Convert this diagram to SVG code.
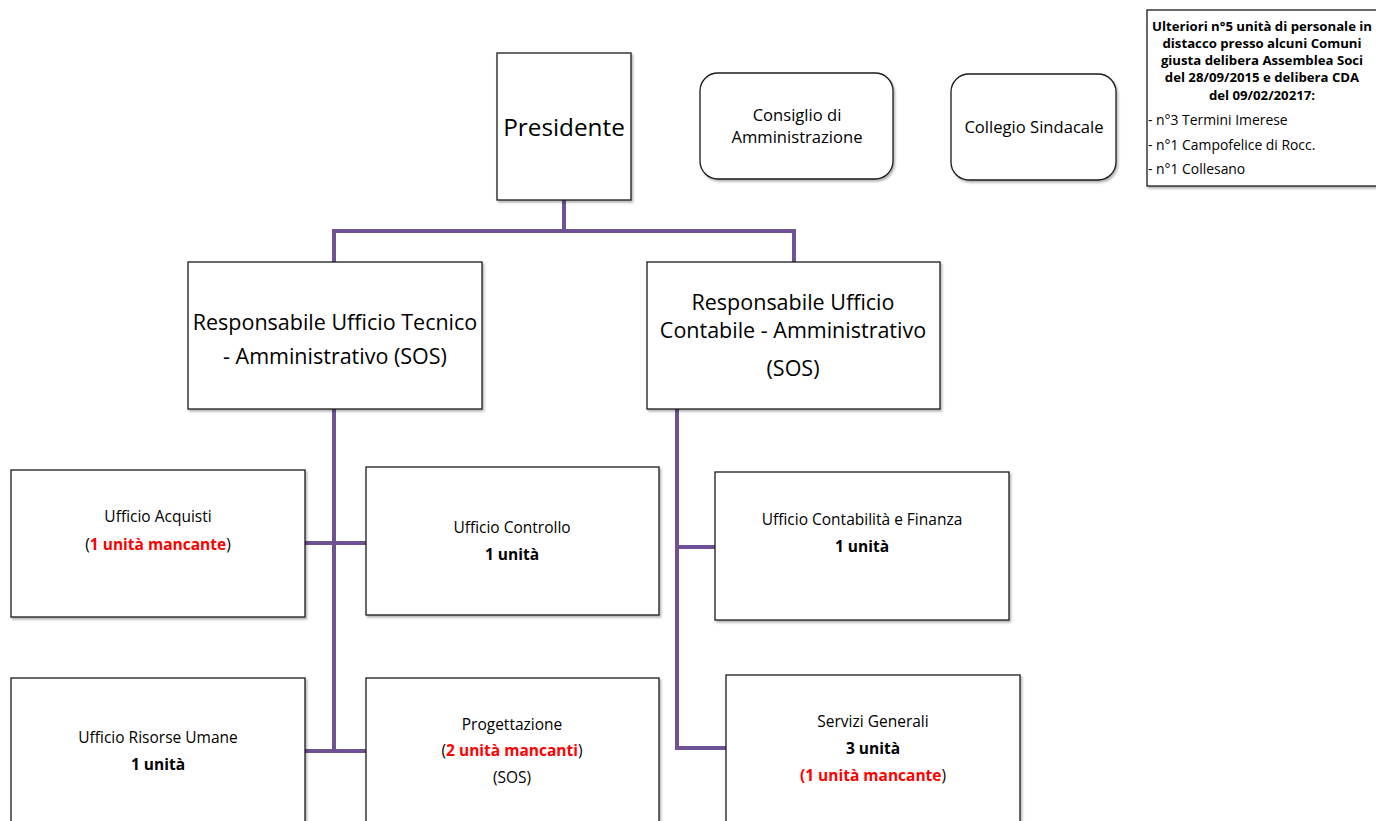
<svg xmlns="http://www.w3.org/2000/svg" width="1376" height="821" viewBox="0 0 1376 821">
<style>
text{font-family:"Open Sans","Noto Sans","Liberation Sans",sans-serif;fill:#000;text-anchor:middle}
.box{fill:#fff;stroke:#1a1a1a;stroke-width:1.3;filter:url(#sh)}
.s{font-size:15.5px}
.t{font-size:16.6px}
.m{font-size:21.5px}
.b{font-weight:bold}
.r{fill:#f00;font-weight:bold}
.c{fill:none;stroke:#6f5296;stroke-width:4}
.note{font-size:13.2px}
.li{font-size:13.9px;text-anchor:start}
</style>
<defs>
<filter id="sh" x="-5%" y="-5%" width="112%" height="115%">
<feDropShadow dx="1.5" dy="2" stdDeviation="1.2" flood-color="#000" flood-opacity="0.3"/>
</filter>
</defs>
<g id="connectors">
<path class="c" d="M564 200V231M334 231H794M334 229V262M794 229V262"/>
<path class="c" d="M334 409V753M305 543H366M305 751H366"/>
<path class="c" d="M677 409V750M675 547H715M675 748H726"/>
</g>
<g id="presidente">
<rect class="box" x="497" y="53" width="134" height="147"/>
<text x="564" y="136" style="font-size:24.3px">Presidente</text>
</g>
<g id="consiglio">
<rect class="box" x="700" y="73" width="193" height="106" rx="18"/>
<text class="t" x="797" y="121">Consiglio di</text>
<text class="t" x="797" y="143">Amministrazione</text>
</g>
<g id="collegio">
<rect class="box" x="951" y="74" width="165" height="106" rx="18"/>
<text class="t" x="1034" y="133">Collegio Sindacale</text>
</g>
<g id="nota">
<rect class="box" x="1147" y="10" width="240" height="176"/>
<text class="note b" x="1262" y="31">Ulteriori n°5 unità di personale in</text>
<text class="note b" x="1262" y="48">distacco presso alcuni Comuni</text>
<text class="note b" x="1262" y="65">giusta delibera Assemblea Soci</text>
<text class="note b" x="1262" y="82">del 28/09/2015 e delibera CDA</text>
<text class="note b" x="1262" y="100">del 09/02/20217:</text>
<text class="li" x="1148" y="125">- n°3 Termini Imerese</text>
<text class="li" x="1148" y="150">- n°1 Campofelice di Rocc.</text>
<text class="li" x="1148" y="174">- n°1 Collesano</text>
</g>
<g id="resp-tecnico">
<rect class="box" x="188" y="262" width="294" height="147"/>
<text class="m" x="335" y="330">Responsabile Ufficio Tecnico</text>
<text class="m" x="335" y="364">- Amministrativo (SOS)</text>
</g>
<g id="resp-contabile">
<rect class="box" x="647" y="262" width="293" height="147"/>
<text class="m" x="793" y="310">Responsabile Ufficio</text>
<text class="m" x="793" y="338">Contabile - Amministrativo</text>
<text class="m" x="793" y="376">(SOS)</text>
</g>
<g id="acquisti">
<rect class="box" x="11" y="470" width="294" height="147"/>
<text class="s" x="158" y="522">Ufficio Acquisti</text>
<text class="s" x="158" y="550">(<tspan class="r">1 unità mancante</tspan>)</text>
</g>
<g id="controllo">
<rect class="box" x="366" y="467" width="293" height="148"/>
<text class="s" x="512" y="533">Ufficio Controllo</text>
<text class="s b" x="512" y="560">1 unità</text>
</g>
<g id="contabilita">
<rect class="box" x="715" y="472" width="294" height="148"/>
<text class="s" x="862" y="525">Ufficio Contabilità e Finanza</text>
<text class="s b" x="862" y="552">1 unità</text>
</g>
<g id="risorse">
<rect class="box" x="11" y="678" width="294" height="160"/>
<text class="s" x="158" y="743">Ufficio Risorse Umane</text>
<text class="s b" x="158" y="770">1 unità</text>
</g>
<g id="progettazione">
<rect class="box" x="366" y="678" width="293" height="160"/>
<text class="s" x="512" y="730">Progettazione</text>
<text class="s" x="512" y="756">(<tspan class="r">2 unità mancanti</tspan>)</text>
<text class="s" x="512" y="783">(SOS)</text>
</g>
<g id="servizi">
<rect class="box" x="726" y="675" width="294" height="163"/>
<text class="s" x="873" y="727">Servizi Generali</text>
<text class="s b" x="873" y="754">3 unità</text>
<text class="s" x="873" y="781"><tspan class="r">(1 unità mancante</tspan>)</text>
</g>
</svg>
